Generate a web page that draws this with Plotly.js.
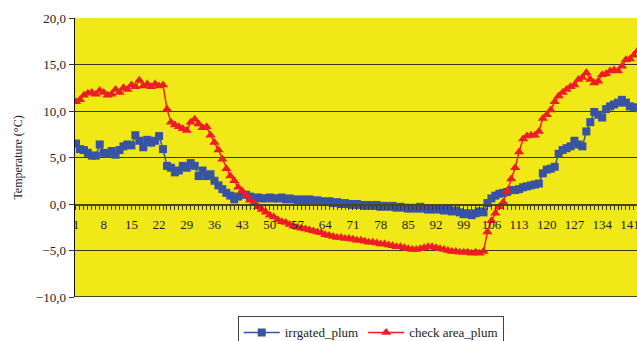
<!DOCTYPE html>
<html>
<head>
<meta charset="utf-8">
<script src="https://cdn.plot.ly/plotly-3.0.1.min.js"></script>
<style>html,body{margin:0;padding:0;background:#fff;}#chart{width:637px;height:341px;}</style>
</head>
<body>
<div id="chart"></div>
<script>
// Day index (categories 1..143)
const days = [];
for (let d = 1; d <= 143; d++) days.push(d);

const irrigatedPlum = [
 6.5,5.9,5.8,5.5,5.2,5.2,6.4,5.5,5.4,5.7,
 5.3,5.8,6.2,6.4,6.3,7.4,6.8,6.1,6.9,6.6,
 6.8,7.3,5.9,4.1,3.9,3.4,3.6,4.1,3.9,4.4,
 4.1,3.0,3.6,3.0,3.2,2.5,2.0,1.6,1.2,0.9,
 0.5,0.8,1.0,1.0,0.8,0.6,0.7,0.6,0.6,0.7,
 0.6,0.6,0.7,0.5,0.6,0.5,0.4,0.5,0.4,0.5,
 0.3,0.4,0.3,0.2,0.3,0.1,0.2,0.0,0.1,0.0,
 -0.1,0.0,-0.1,-0.2,-0.1,-0.2,-0.1,-0.3,-0.2,-0.3,
 -0.2,-0.4,-0.3,-0.4,-0.5,-0.4,-0.5,-0.3,-0.5,-0.6,
 -0.5,-0.6,-0.5,-0.7,-0.6,-0.8,-0.7,-0.9,-1.1,-1.0,
 -1.2,-1.0,-0.8,-0.9,0.1,0.6,0.9,1.1,1.2,1.3,
 1.5,1.5,1.6,1.8,1.9,2.0,2.1,2.2,3.3,3.7,
 3.8,4.0,5.4,5.8,6.0,6.2,6.8,6.4,6.2,7.8,
 8.8,9.9,9.6,9.3,10.2,10.5,10.7,10.9,11.2,10.9,
 10.5,10.4,10.3
];

const checkAreaPlum = [
 11.0,11.2,11.7,11.9,12.0,11.8,12.2,12.0,11.7,11.8,
 12.3,12.0,12.5,12.3,12.8,12.6,13.3,12.7,12.9,12.6,
 12.9,12.7,12.8,10.2,8.8,8.5,8.3,8.1,7.9,8.8,
 9.1,8.6,8.2,8.3,7.4,6.6,5.8,4.8,3.8,3.0,
 2.5,1.8,1.4,0.9,0.4,0.1,-0.3,-0.6,-0.9,-1.2,
 -1.4,-1.7,-1.9,-2.0,-2.2,-2.4,-2.5,-2.6,-2.7,-2.8,
 -2.9,-3.0,-3.1,-3.3,-3.4,-3.5,-3.6,-3.6,-3.7,-3.7,
 -3.8,-3.9,-3.9,-4.0,-4.1,-4.1,-4.2,-4.3,-4.3,-4.4,
 -4.5,-4.6,-4.6,-4.7,-4.8,-4.9,-4.9,-4.8,-4.7,-4.6,
 -4.6,-4.7,-4.8,-4.9,-5.0,-5.1,-5.1,-5.2,-5.2,-5.2,
 -5.3,-5.2,-5.3,-5.1,-3.0,-1.8,-1.0,-0.3,0.2,1.4,
 2.7,3.9,5.6,7.0,7.3,7.4,7.4,7.8,9.2,9.6,
 10.1,11.0,11.6,12.0,12.3,12.6,12.8,13.4,13.6,14.1,
 13.4,13.0,13.2,13.9,14.0,14.3,14.4,14.3,14.8,15.5,
 15.6,16.0,16.5
];

const seriesNames = ['irrgated_plum', 'check area_plum'];
const yTickVals = [-10, -5, 0, 5, 10, 15, 20];
const xTickVals = [1, 8, 15, 22, 29, 36, 43, 50, 57, 64, 71, 78, 85, 92, 99, 106, 113, 120, 127, 134, 141];

const fontFam = 'Liberation Serif, serif';

const traces = [
  {
    x: days, y: irrigatedPlum, name: seriesNames[0], type: 'scatter', mode: 'lines+markers',
    line: {color: '#3953a4', width: 1.5},
    marker: {symbol: 'square', size: 8, color: '#3953a4'}
  },
  {
    x: days, y: checkAreaPlum, name: seriesNames[1], type: 'scatter', mode: 'lines+markers',
    line: {color: '#ee1c25', width: 1.5},
    marker: {symbol: 'triangle-up', size: 9, color: '#ee1c25'}
  }
];

const layout = {
  width: 637, height: 341,
  margin: {l: 75, r: 0, t: 18, b: 44, pad: 0},
  paper_bgcolor: '#ffffff',
  plot_bgcolor: '#f1e917',
  separators: ',.',
  font: {family: fontFam, size: 12, color: '#222'},
  showlegend: true,
  legend: {
    orientation: 'h', xref: 'container', yref: 'container',
    x: 0.582, xanchor: 'center', y: 0.072, yanchor: 'top',
    bordercolor: '#444', borderwidth: 1, bgcolor: '#ffffff',
    font: {family: fontFam, size: 13, color: '#222'},
    itemwidth: 36, tracegroupgap: 0
  },
  xaxis: {
    range: [0.75, 142.8],
    anchor: 'free', position: 1/3,
    tickmode: 'array', tickvals: xTickVals,
    ticks: 'outside', ticklen: 4, tickcolor: '#333', tickwidth: 1,
    ticklabelstandoff: 4,
    ticklabeloverflow: 'allow',
    minor: {ticks: 'outside', ticklen: 4, tickcolor: '#333', tickwidth: 1, tick0: 1, dtick: 1, showgrid: false},
    showline: true, linecolor: '#4a4620', linewidth: 1.5,
    showgrid: false, zeroline: false,
    tickfont: {family: fontFam, size: 13, color: '#222'}
  },
  yaxis: {
    range: [-10, 20],
    tickmode: 'array', tickvals: yTickVals,
    tickformat: '.1f',
    ticks: 'outside', ticklen: 5, tickcolor: '#333',
    showline: true, linecolor: '#111', linewidth: 1.5,
    showgrid: true, gridcolor: '#3a3722', gridwidth: 1,
    zeroline: false,
    tickfont: {family: fontFam, size: 13, color: '#222'},
    title: {text: 'Temperature (°C)', font: {family: fontFam, size: 12, color: '#222'}, standoff: 10}
  },
  shapes: [
    {type: 'line', xref: 'paper', yref: 'y', x0: 0, x1: 1, y0: -10, y1: -10, line: {color: '#111', width: 1.5}}
  ]
};

Plotly.newPlot('chart', traces, layout, {displayModeBar: false, staticPlot: true});
</script>
</body>
</html>
